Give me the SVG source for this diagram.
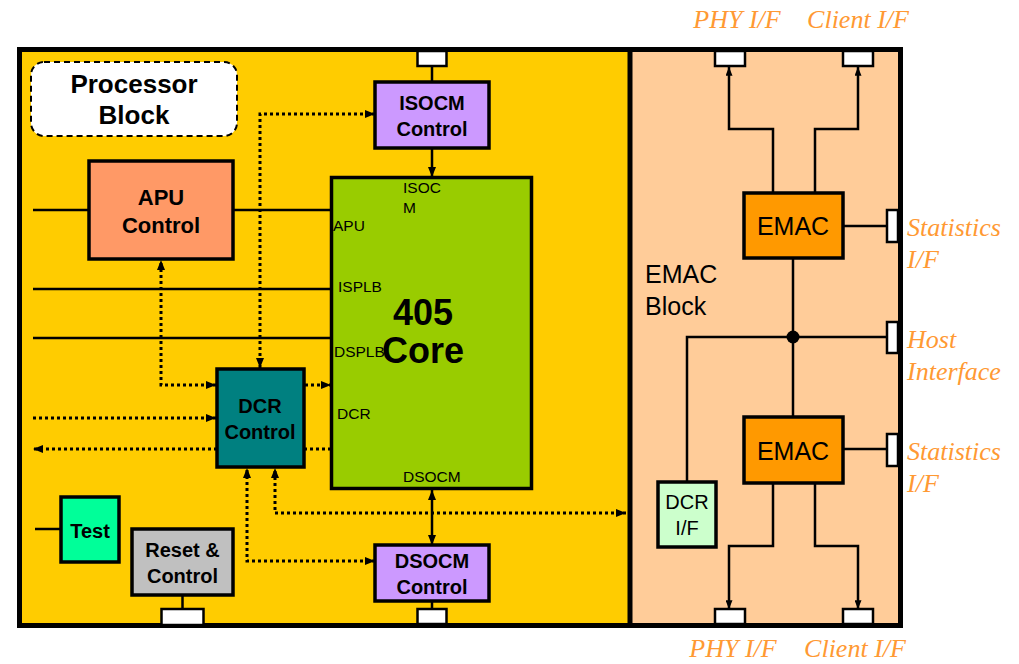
<svg xmlns="http://www.w3.org/2000/svg" width="1019" height="664" viewBox="0 0 1019 664">
<style>
.box{stroke:#000;stroke-width:3.5}
.port{fill:#fff;stroke:#000;stroke-width:2.5}
.ln{fill:none;stroke:#000;stroke-width:2.5}
.dot{fill:none;stroke:#000;stroke-width:3;stroke-dasharray:3 3}
.t{font-family:"Liberation Sans",Arial,sans-serif;fill:#000;text-anchor:middle}
.b{font-weight:bold}
.s{font-family:"Liberation Sans",Arial,sans-serif;font-size:15.5px;fill:#000}
.o{font-family:"Liberation Serif","Times New Roman",serif;font-style:italic;font-size:26px;fill:#FF9933}
</style>
<defs>
<marker id="ah" viewBox="0 0 10 8" refX="10" refY="4" markerWidth="10" markerHeight="8" markerUnits="userSpaceOnUse" orient="auto-start-reverse"><path d="M0,0 L10,4 L0,8 z" fill="#000" stroke="none"/></marker>
<marker id="as" viewBox="0 0 10 8" refX="10" refY="4" markerWidth="9" markerHeight="7" markerUnits="userSpaceOnUse" orient="auto-start-reverse"><path d="M0,0 L10,4 L0,8 z" fill="#000" stroke="none"/></marker>
</defs>

<g id="processor-block">
<rect x="17" y="47" width="613" height="581" fill="#FFCC00"/>
</g>
<g id="emac-block">
<rect x="630" y="47" width="273" height="581" fill="#FFCC99"/>
<text class="t" x="645" y="283" font-size="25" style="text-anchor:start">EMAC</text>
<text class="t" x="645" y="315" font-size="25" style="text-anchor:start">Block</text>
</g>
<g id="frame">
<rect x="19.5" y="49.5" width="881" height="576" fill="none" stroke="#000" stroke-width="5"/>
<line x1="630" y1="47" x2="630" y2="628" stroke="#000" stroke-width="5"/>
</g>

<g id="connectors">
<path class="ln" d="M432 66 V82"/>
<path class="ln" d="M432 148 V177" marker-end="url(#ah)"/>
<path class="ln" d="M33 210 H89 M233 210 H331"/>
<path class="ln" d="M33 289 H331"/>
<path class="ln" d="M33 338 H331"/>
<path class="ln" d="M432 490 V545" marker-start="url(#ah)" marker-end="url(#ah)"/>
<path class="ln" d="M432 601 V609"/>
<path class="ln" d="M35 529 H61"/>
<path class="ln" d="M182.5 595 V609"/>
<path class="ln" d="M773 193 V129 H729 V67" marker-end="url(#as)"/>
<path class="ln" d="M815 193 V129 H858 V67" marker-end="url(#as)"/>
<path class="ln" d="M843 226 H887"/>
<path class="ln" d="M793 258 V417"/>
<path class="ln" d="M687 482 V337 H887"/>
<circle cx="793" cy="337" r="6.5" fill="#000"/>
<path class="ln" d="M843 449 H887"/>
<path class="ln" d="M773 483 V546 H729 V609" marker-end="url(#as)"/>
<path class="ln" d="M815 483 V546 H858 V609" marker-end="url(#as)"/>

<path class="dot" d="M216 385 H161 V260" marker-start="url(#ah)" marker-end="url(#ah)"/>
<path class="dot" d="M260 368 V114 H375" marker-start="url(#ah)" marker-end="url(#ah)"/>
<path class="dot" d="M305 385 H331" marker-end="url(#ah)"/>
<path class="dot" d="M33 418 H216" marker-end="url(#ah)"/>
<path class="dot" d="M331 449 H33" marker-end="url(#ah)"/>
<path class="dot" d="M626 513 H275 V468" marker-start="url(#ah)" marker-end="url(#ah)"/>
<path class="dot" d="M375 561 H247 V468" marker-start="url(#ah)" marker-end="url(#ah)"/>
</g>

<g id="ports">
<rect class="port" x="417.5" y="51" width="29" height="15"/>
<rect class="port" x="417.5" y="609" width="29" height="15"/>
<rect class="port" x="161.5" y="609" width="42" height="16"/>
<rect class="port" x="715" y="51" width="30" height="15"/>
<rect class="port" x="843" y="51" width="30" height="15"/>
<rect class="port" x="715" y="609" width="30" height="15"/>
<rect class="port" x="843" y="609" width="30" height="15"/>
<rect class="port" x="887" y="210" width="11" height="32"/>
<rect class="port" x="887" y="322" width="11" height="31"/>
<rect class="port" x="887" y="434" width="11" height="32"/>
</g>

<g id="processor-label">
<rect x="31" y="62" width="206" height="74" rx="13" fill="#fff" stroke="#000" stroke-width="2" stroke-dasharray="6 4"/>
<text class="t b" x="134" y="93" font-size="26">Processor</text>
<text class="t b" x="134" y="124" font-size="26">Block</text>
</g>

<g id="apu-control">
<rect class="box" x="89" y="161" width="144" height="98" fill="#FF9966"/>
<text class="t b" x="161" y="205" font-size="22">APU</text>
<text class="t b" x="161" y="233" font-size="22">Control</text>
</g>

<g id="isocm-control">
<rect class="box" x="375" y="82" width="114" height="66" fill="#CC99FF"/>
<text class="t b" x="432" y="110" font-size="20">ISOCM</text>
<text class="t b" x="432" y="136" font-size="20">Control</text>
</g>

<g id="core-405">
<rect class="box" x="331.5" y="177.5" width="200" height="311" fill="#99CC00" stroke-width="4"/>
<text class="s" x="403" y="193">ISOC</text>
<text class="s" x="403" y="213">M</text>
<text class="s" x="333" y="231">APU</text>
<text class="s" x="338" y="292">ISPLB</text>
<text class="s" x="334" y="357">DSPLB</text>
<text class="s" x="337" y="419">DCR</text>
<text class="s" x="403" y="482">DSOCM</text>
<text class="t b" x="423" y="325" font-size="36">405</text>
<text class="t b" x="423" y="363" font-size="36">Core</text>
</g>

<g id="dcr-control">
<rect class="box" x="217" y="369" width="87" height="98" fill="#008080"/>
<text class="t b" x="260" y="413" font-size="20">DCR</text>
<text class="t b" x="260" y="439" font-size="20">Control</text>
</g>

<g id="dsocm-control">
<rect class="box" x="375" y="545" width="114" height="56" fill="#CC99FF"/>
<text class="t b" x="432" y="568" font-size="20">DSOCM</text>
<text class="t b" x="432" y="594" font-size="20">Control</text>
</g>

<g id="test">
<rect class="box" x="61" y="497" width="58" height="65" fill="#00FF99"/>
<text class="t b" x="90" y="538" font-size="20">Test</text>
</g>

<g id="reset-control">
<rect class="box" x="132" y="529" width="101" height="66" fill="#C0C0C0"/>
<text class="t b" x="182.5" y="557" font-size="20">Reset &amp;</text>
<text class="t b" x="182.5" y="583" font-size="20">Control</text>
</g>

<g id="emac-top">
<rect class="box" x="744" y="193" width="99" height="65" fill="#FF9900"/>
<text class="t" x="793" y="235" font-size="25">EMAC</text>
</g>

<g id="emac-bottom">
<rect class="box" x="744" y="417" width="99" height="66" fill="#FF9900"/>
<text class="t" x="793" y="460" font-size="25">EMAC</text>
</g>

<g id="dcr-if">
<rect class="box" x="658" y="482" width="58" height="65" fill="#CCFFCC"/>
<text class="t" x="687" y="509" font-size="20">DCR</text>
<text class="t" x="687" y="535" font-size="20">I/F</text>
</g>

<g id="labels">
<text class="o" x="737" y="28" text-anchor="middle">PHY I/F</text>
<text class="o" x="858" y="28" text-anchor="middle">Client I/F</text>
<text class="o" x="733" y="657" text-anchor="middle">PHY I/F</text>
<text class="o" x="855" y="657" text-anchor="middle">Client I/F</text>
<text class="o" x="907" y="236">Statistics</text>
<text class="o" x="907" y="268">I/F</text>
<text class="o" x="907" y="348">Host</text>
<text class="o" x="907" y="380">Interface</text>
<text class="o" x="907" y="460">Statistics</text>
<text class="o" x="907" y="492">I/F</text>
</g>
</svg>
